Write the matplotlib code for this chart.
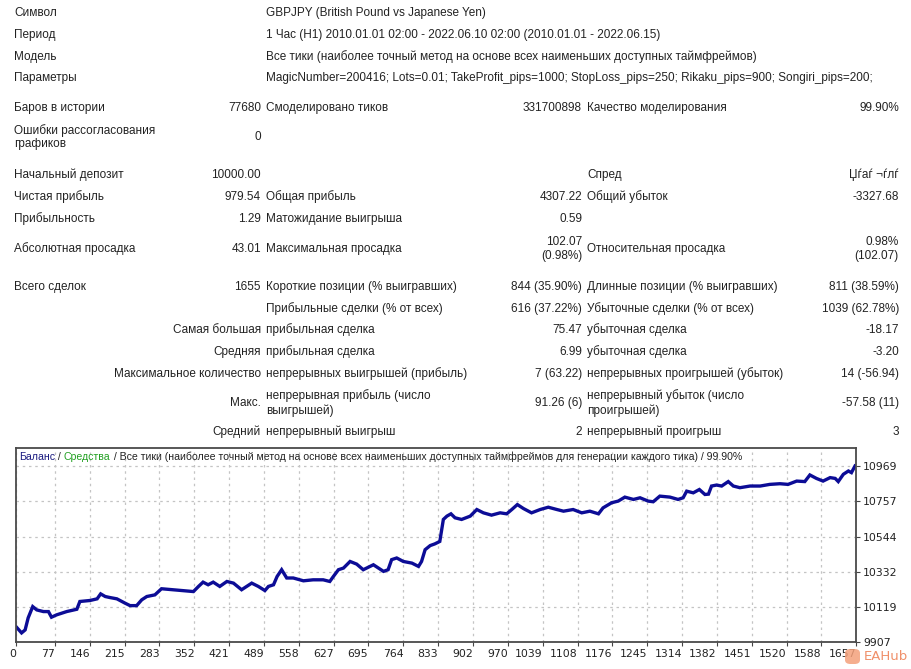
"""
MT4 strategy tester report: stats table and balance curve
"""

import matplotlib
matplotlib.use("Agg")
import matplotlib.pyplot as plt
from matplotlib.patches import FancyBboxPatch

# ---- report text ----
head_labels = ["Символ", "Период", "Модель", "Параметры"]
head_values = ["GBPJPY (British Pound vs Japanese Yen)",
               "1 Час (H1) 2010.01.01 02:00 - 2022.06.10 02:00 (2010.01.01 - 2022.06.15)",
               "Все тики (наиболее точный метод на основе всех наименьших доступных таймфреймов)",
               "MagicNumber=200416; Lots=0.01; TakeProfit_pips=1000; StopLoss_pips=250; Rikaku_pips=900; Songiri_pips=200;"]

# (label1, value1, label2, value2, label3, value3)
stat_rows = [
    ("Баров в истории", "77680", "Смоделировано тиков", "331700898", "Качество моделирования", "99.90%"),
    ("Ошибки рассогласования\nграфиков", "0", "", "", "", ""),
    ("Начальный депозит", "10000.00", "", "", "Спред", "Џѓаѓ ¬ѓлѓ"),
    ("Чистая прибыль", "979.54", "Общая прибыль", "4307.22", "Общий убыток", "-3327.68"),
    ("Прибыльность", "1.29", "Матожидание выигрыша", "0.59", "", ""),
    ("Абсолютная просадка", "43.01", "Максимальная просадка", "102.07\n(0.98%)", "Относительная просадка", "0.98%\n(102.07)"),
    ("Всего сделок", "1655", "Короткие позиции (% выигравших)", "844 (35.90%)", "Длинные позиции (% выигравших)", "811 (38.59%)"),
]

# (right-aligned group label, label2, value2, label3, value3)
trade_rows = [
    ("", "Прибыльные сделки (% от всех)", "616 (37.22%)", "Убыточные сделки (% от всех)", "1039 (62.78%)"),
    ("Самая большая", "прибыльная сделка", "75.47", "убыточная сделка", "-18.17"),
    ("Средняя", "прибыльная сделка", "6.99", "убыточная сделка", "-3.20"),
    ("Максимальное количество", "непрерывных выигрышей (прибыль)", "7 (63.22)", "непрерывных проигрышей (убыток)", "14 (-56.94)"),
    ("Макс.", "непрерывная прибыль (число\nвыигрышей)", "91.26 (6)", "непрерывный убыток (число\nпроигрышей)", "-57.58 (11)"),
    ("Средний", "непрерывный выигрыш", "2", "непрерывный проигрыш", "3"),
]

# ---- balance curve (trade number, balance) ----
trades = [0, 11, 18, 24, 33, 41, 54, 64, 70, 80, 100, 120, 126, 146, 160, 167, 176, 185,
          199, 215, 225, 238, 248, 258, 274, 287, 310, 330, 350, 360, 369, 379, 389, 402,
          416, 429, 445, 455, 465, 478, 491, 498, 508, 515, 524, 534, 547, 567, 586, 606,
          619, 626, 636, 646, 659, 672, 685, 705, 715, 725, 734, 741, 751, 764, 781, 794,
          800, 807, 817, 826, 836, 843, 850, 858, 866, 879, 896, 909, 922, 938, 955, 968,
          978, 989, 1001, 1017, 1034, 1050, 1067, 1080, 1099, 1116, 1132, 1149, 1158, 1175,
          1188, 1201, 1218, 1231, 1247, 1257, 1270, 1290, 1306, 1316, 1323, 1336, 1348, 1359,
          1366, 1372, 1382, 1392, 1405, 1415, 1428, 1448, 1468, 1487, 1507, 1523, 1540, 1556,
          1566, 1579, 1592, 1606, 1616, 1622, 1632, 1642, 1648, 1655]
balance = [10000, 9962, 9980, 10053, 10121, 10101, 10091, 10091, 10057, 10071, 10091, 10105,
           10152, 10158, 10168, 10198, 10182, 10176, 10168, 10142, 10127, 10127, 10162, 10182,
           10192, 10229, 10223, 10218, 10212, 10243, 10269, 10253, 10269, 10243, 10273, 10263,
           10223, 10243, 10263, 10243, 10218, 10243, 10253, 10303, 10344, 10294, 10294, 10277,
           10283, 10283, 10273, 10303, 10344, 10354, 10394, 10378, 10344, 10374, 10354, 10334,
           10344, 10405, 10415, 10394, 10384, 10364, 10394, 10465, 10490, 10500, 10515, 10648,
           10668, 10682, 10658, 10648, 10668, 10708, 10688, 10674, 10688, 10682, 10708, 10738,
           10714, 10688, 10708, 10722, 10708, 10698, 10708, 10688, 10698, 10682, 10718, 10749,
           10759, 10783, 10769, 10779, 10759, 10755, 10789, 10783, 10769, 10779, 10819, 10809,
           10829, 10799, 10801, 10850, 10856, 10850, 10877, 10850, 10840, 10850, 10850, 10860,
           10864, 10860, 10880, 10877, 10917, 10896, 10880, 10901, 10896, 10877, 10921, 10941,
           10931, 10971]

x_ticks = [0, 77, 146, 215, 283, 352, 421, 489, 558, 627, 695, 764, 833, 902, 970, 1039,
           1108, 1176, 1245, 1314, 1382, 1451, 1520, 1588, 1657]
y_ticks = [9907, 10119, 10332, 10544, 10757, 10969]

W, H = 912, 669
FONT = "Liberation Sans"
FS = 8.5

fig = plt.figure(figsize=(W / 100, H / 100), dpi=100)
fig.patch.set_facecolor("white")


def put(x, y, s, ha="left", **kw):
    # place text using pixel coordinates of the reference
    fig.text(x / W, 1 - y / H, s, ha=ha, va="center", family=FONT,
             fontsize=kw.pop("fontsize", FS), color=kw.pop("color", "#222222"),
             linespacing=1.2, **kw)


# header block
head_y = [13, 35, 57, 78]
for lab, val, y in zip(head_labels, head_values, head_y):
    put(14, y, lab)
    put(266, y, val)

# statistics block
stat_y = [108, 137, 175, 197, 219, 249, 287]
for row, y in zip(stat_rows, stat_y):
    l1, v1, l2, v2, l3, v3 = row
    put(14, y, l1)
    put(261, y, v1, ha="right", multialignment="right")
    put(266, y, l2)
    put(582, y, v2, ha="right", multialignment="right")
    put(587, y, l3)
    put(899, y, v3, ha="right", multialignment="right")

trade_y = [309, 330, 352, 374, 403, 432]
for row, y in zip(trade_rows, trade_y):
    g, l2, v2, l3, v3 = row
    put(261, y, g, ha="right")
    put(266, y, l2)
    put(582, y, v2, ha="right")
    put(587, y, l3)
    put(899, y, v3, ha="right")

# ---- balance chart ----
ax = fig.add_axes([16 / W, 1 - 642 / H, (856 - 16) / W, (642 - 448) / H])
ax.plot(trades, balance, color="#0c0c96", linewidth=2.4, solid_joinstyle="miter")
ax.set_xlim(0, 1657)
ax.set_ylim(9907, 11080)

ax.set_xticks(x_ticks)
ax.set_xticklabels([str(t) for t in x_ticks], ha="right")
ax.set_yticks(y_ticks)
ax.set_yticklabels([str(t) for t in y_ticks])
ax.yaxis.tick_right()
ax.tick_params(axis="both", direction="out", length=3, width=0.8, color="#444444",
               labelsize=7.8, labelcolor="#222222", pad=2)
for lab in ax.get_xticklabels() + ax.get_yticklabels():
    lab.set_family("DejaVu Sans")
ax.grid(True, color="#c4c4c4", linestyle=(0, (2, 3)), linewidth=0.9)
for sp in ax.spines.values():
    sp.set_color("#4a4a4a")
    sp.set_linewidth(1.3)

# chart caption in three colours
tfs = 7.6
t1 = ax.text(0.004, 0.955, "Баланс", transform=ax.transAxes, color="#1a1a80",
             fontsize=tfs, family=FONT, va="center")
t2 = ax.annotate(" / ", xy=(1, 0), xycoords=t1, va="bottom", fontsize=tfs,
                 family=FONT, color="#222222")
t3 = ax.annotate("Средства", xy=(1, 0), xycoords=t2, va="bottom", fontsize=tfs,
                 family=FONT, color="#22a022")
ax.annotate(" / Все тики (наиболее точный метод на основе всех наименьших доступных "
            "таймфреймов для генерации каждого тика) / 99.90%",
            xy=(1, 0), xycoords=t3, va="bottom", fontsize=tfs, family=FONT,
            color="#222222")

# watermark
fig.patches.append(FancyBboxPatch((845 / W, 1 - 664 / H), 15 / W, 15 / H,
                                  boxstyle="round,pad=0,rounding_size=0.006",
                                  transform=fig.transFigure, facecolor="#f4a07a",
                                  edgecolor="none", alpha=0.85))
fig.text(864 / W, 1 - 656 / H, "EAHub", fontsize=9.5, color="#f0906a", va="center",
         family="DejaVu Sans")

fig.savefig("out.png", dpi=100, facecolor="white")
